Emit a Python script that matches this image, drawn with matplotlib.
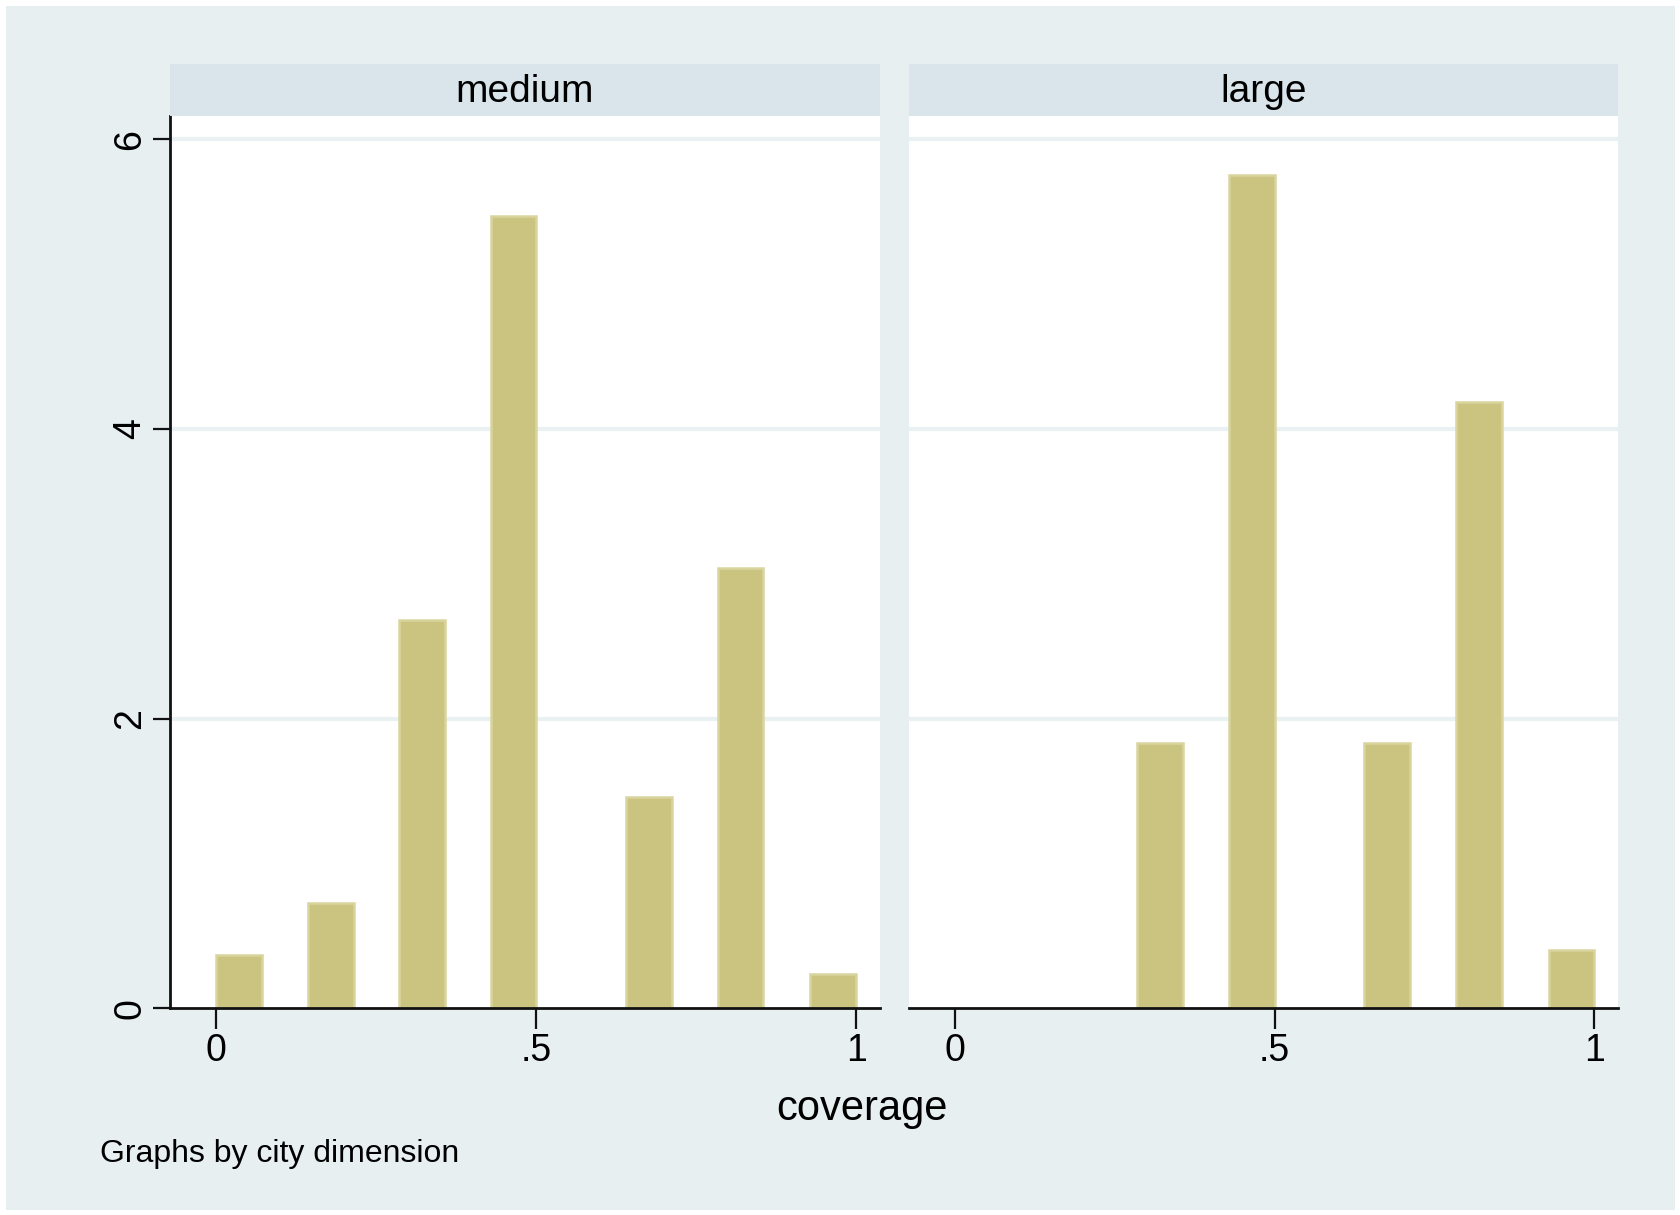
import matplotlib
matplotlib.use("Agg")
import matplotlib.pyplot as plt
from matplotlib.patches import Rectangle

plt.rcParams['font.family'] = ['Liberation Sans', 'DejaVu Sans']

# Histogram of coverage by city dimension (density scale)
panels = ["medium", "large"]
bar_left = [0.0, 0.1428, 0.2857, 0.4286, 0.6405, 0.7834, 0.9285]
bar_width = 0.0715
density_medium = [0.37, 0.725, 2.68, 5.47, 1.457, 3.04, 0.237]
density_large = [0.0, 0.0, 1.834, 5.754, 1.834, 4.186, 0.40]
densities = [density_medium, density_large]

x_ticks = [0, 0.5, 1]
x_tick_labels = ["0", ".5", "1"]
y_ticks = [0, 2, 4, 6]
y_tick_labels = ["0", "2", "4", "6"]

BG = "#e8eff1"
STRIP = "#d9e5ea"
GRID = "#e9f1f3"
FILL = "#cbc481"
EDGE = "#d9d49e"

W, H = 1680, 1215
fig = plt.figure(figsize=(W / 100, H / 100), dpi=100)
fig.patch.set_facecolor("white")
fig.patches.append(Rectangle((6 / W, 5 / H), 1 - 11 / W, 1 - 11 / H,
                             transform=fig.transFigure, facecolor=BG,
                             edgecolor="none", zorder=-10))

ax_lefts = [170.4, 908.6]
ax_w = 709.3
ax_bottom = 1215 - 1008.2
ax_top = 1215 - 116
strip_h = 52

for i, (name, vals) in enumerate(zip(panels, densities)):
    ax = fig.add_axes([ax_lefts[i] / W, ax_bottom / H, ax_w / W, (ax_top - ax_bottom) / H])
    ax.set_facecolor("white")
    # empty bins are not drawn
    xs = [x for x, v in zip(bar_left, vals) if v > 0]
    hs = [v for v in vals if v > 0]
    ax.bar(xs, hs, width=bar_width, align="edge", color=FILL,
           edgecolor=EDGE, linewidth=1.8, zorder=3)
    ax.set_xlim(-0.0719, 1.0367)
    ax.set_ylim(0, 6.16)
    for y in y_ticks[1:]:
        ax.axhline(y, color=GRID, lw=3, zorder=1)
    for s in ["top", "right"]:
        ax.spines[s].set_visible(False)
    ax.spines["bottom"].set_linewidth(2)
    ax.spines["bottom"].set_color("#111111")
    ax.spines["bottom"].set_zorder(4)
    ax.set_xticks(x_ticks)
    ax.set_xticklabels(x_tick_labels, fontsize=27)
    ax.tick_params(axis="x", length=15, width=1.6, pad=3, color="#111111")
    if i == 0:
        ax.spines["left"].set_linewidth(2)
        ax.spines["left"].set_color("#111111")
        ax.set_yticks(y_ticks)
        ax.set_yticklabels(y_tick_labels, fontsize=27, rotation=90, va="center")
        ax.tick_params(axis="y", length=12, width=1.6, pad=4, color="#111111")
    else:
        ax.spines["left"].set_visible(False)
        ax.set_yticks([])

    hx = fig.add_axes([ax_lefts[i] / W, ax_top / H, ax_w / W, strip_h / H])
    hx.set_facecolor(STRIP)
    hx.set_xticks([])
    hx.set_yticks([])
    for s in hx.spines.values():
        s.set_visible(False)
    hx.text(0.5, 0.47, name, ha="center", va="center", fontsize=28,
            transform=hx.transAxes)

fig.text(862 / W, 1 - 1109 / H, "coverage", ha="center", va="center", fontsize=30)
fig.text(100 / W, 1 - 1154 / H, "Graphs by city dimension", ha="left",
         va="center", fontsize=23)

fig.savefig("out.png", dpi=100, facecolor=fig.get_facecolor())
